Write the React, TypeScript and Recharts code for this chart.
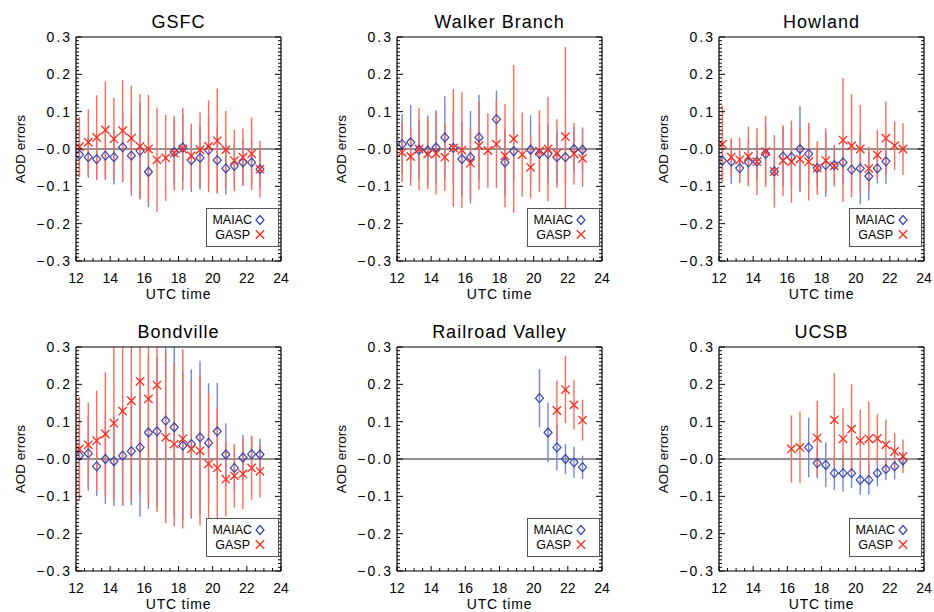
import React from 'react';
import { ScatterChart, Scatter, XAxis, YAxis, ErrorBar, ReferenceLine } from 'recharts';

// ---------- axis ticks ----------
const X_TICKS_MAJOR = [12, 14, 16, 18, 20, 22, 24];
const X_TICK_LABELS = ['12', '14', '16', '18', '20', '22', '24'];
const Y_TICKS_MAJOR = [-0.3, -0.2, -0.1, 0, 0.1, 0.2, 0.3];
const Y_TICK_LABELS = ['\u22120.3', '\u22120.2', '\u22120.1', '\u22120.0', '0.1', '0.2', '0.3'];
const X_TICKS_ALL = Array.from({ length: 25 }, (_, i) => 12 + i * 0.5);
const Y_TICKS_ALL = Array.from({ length: 61 }, (_, i) => (i - 30) / 100);
const Y_MIN = -0.3;
const Y_MAX = 0.3;

// ---------- data ----------
const TIMES_A = [12.2, 12.72, 13.21, 13.72, 14.22, 14.73, 15.24, 15.75, 16.24, 16.74, 17.25, 17.75, 18.25, 18.75, 19.26, 19.76, 20.27, 20.77, 21.27, 21.77, 22.28, 22.77];
const TIMES_B = [12.3, 12.8, 13.29, 13.8, 14.29, 14.8, 15.3, 15.8, 16.3, 16.8, 17.32, 17.82, 18.32, 18.83, 19.33, 19.82, 20.34, 20.84, 21.36, 21.86, 22.36, 22.86];

const GSFC_MAIAC = [-0.015, -0.022, -0.027, -0.018, -0.022, 0.005, -0.018, -0.005, -0.061, null, null, -0.008, 0.004, -0.03, -0.024, -0.003, -0.03, -0.052, -0.045, -0.036, -0.036, -0.054];
const GSFC_MAIAC_ERR = [0.06, 0.055, 0.056, 0.065, 0.073, 0.094, 0.107, 0.13, 0.095, null, null, 0.09, 0.09, 0.085, 0.085, 0.09, 0.09, 0.07, 0.06, 0.06, 0.06, 0.05];
const GSFC_GASP = [0.006, 0.018, 0.031, 0.051, 0.027, 0.049, 0.029, 0.007, 0.0, -0.029, -0.024, -0.011, 0.0, -0.018, -0.002, 0.007, 0.022, -0.002, -0.031, -0.022, -0.013, -0.054];
const GSFC_GASP_ERR = [0.08, 0.088, 0.113, 0.13, 0.11, 0.135, 0.14, 0.14, 0.145, 0.14, 0.115, 0.1, 0.11, 0.086, 0.1, 0.123, 0.14, 0.104, 0.082, 0.077, 0.097, 0.076];

const WALKER_MAIAC = [0.013, 0.018, -0.002, -0.004, 0.004, 0.031, 0.003, -0.027, -0.022, 0.031, null, 0.08, -0.036, -0.006, null, -0.002, -0.013, -0.013, -0.022, -0.022, 0.0, -0.002];
const WALKER_MAIAC_ERR = [0.08, 0.1, 0.08, 0.094, 0.1, 0.11, 0.1, 0.1, 0.124, 0.114, null, 0.076, 0.09, 0.08, null, 0.092, 0.08, 0.08, 0.07, 0.07, 0.06, 0.06];
const WALKER_GASP = [-0.009, -0.02, 0.0, -0.013, -0.012, -0.022, 0.003, -0.003, -0.038, 0.009, -0.004, 0.013, -0.018, 0.027, -0.015, -0.049, -0.006, 0.0, -0.012, 0.033, -0.013, -0.025];
const WALKER_GASP_ERR = [0.08, 0.078, 0.11, 0.095, 0.11, 0.09, 0.158, 0.155, 0.096, 0.118, 0.1, 0.118, 0.138, 0.198, 0.113, 0.083, 0.11, 0.14, 0.092, 0.24, 0.083, 0.077];

const HOWLAND_MAIAC = [-0.031, -0.034, -0.051, -0.036, -0.034, -0.013, -0.06, -0.02, -0.022, 0.0, -0.013, -0.051, -0.043, -0.043, -0.036, -0.055, -0.052, -0.073, -0.052, -0.033, null, null];
const HOWLAND_MAIAC_ERR = [0.05, 0.06, 0.04, 0.06, 0.05, 0.08, 0.04, 0.08, 0.08, 0.115, 0.08, 0.05, 0.085, 0.05, 0.06, 0.06, 0.095, 0.065, 0.04, 0.06, null, null];
const HOWLAND_GASP = [0.013, -0.022, -0.029, -0.02, -0.034, -0.007, -0.06, -0.031, -0.034, -0.027, -0.034, -0.051, -0.031, -0.045, 0.024, 0.009, 0.0, -0.052, -0.016, 0.029, 0.009, 0.0];
const HOWLAND_GASP_ERR = [0.103, 0.05, 0.06, 0.08, 0.09, 0.095, 0.097, 0.094, 0.11, 0.085, 0.104, 0.072, 0.086, 0.056, 0.166, 0.138, 0.118, 0.058, 0.067, 0.098, 0.065, 0.069];

const BOND_MAIAC = [0.009, 0.015, -0.02, 0.0, -0.006, 0.009, 0.021, 0.031, 0.071, 0.074, 0.103, 0.085, 0.036, 0.04, 0.058, 0.043, 0.074, 0.012, -0.024, 0.004, 0.013, 0.012];
const BOND_MAIAC_ERR = [0.1, 0.1, 0.079, 0.12, 0.12, 0.134, 0.145, 0.186, 0.205, 0.2, 0.25, 0.24, 0.2, 0.2, 0.205, 0.16, 0.13, 0.084, 0.06, 0.06, 0.049, 0.042];
const BOND_GASP = [0.027, 0.038, 0.049, 0.067, 0.096, 0.128, 0.156, 0.208, 0.161, 0.198, 0.058, 0.04, 0.054, 0.027, 0.022, -0.013, -0.024, -0.054, -0.045, -0.04, -0.024, -0.033];
const BOND_GASP_ERR = [0.14, 0.113, 0.134, 0.165, 0.207, 0.253, 0.268, 0.3, 0.28, 0.34, 0.23, 0.22, 0.24, 0.18, 0.2, 0.19, 0.16, 0.1, 0.085, 0.094, 0.085, 0.07];

const RAIL_MAIAC = [null, null, null, null, null, null, null, null, null, null, null, null, null, null, null, null, 0.163, 0.071, 0.031, 0.0, -0.009, -0.022];
const RAIL_MAIAC_ERR = [null, null, null, null, null, null, null, null, null, null, null, null, null, null, null, null, 0.078, 0.08, 0.061, 0.04, 0.042, 0.031];
const RAIL_GASP = [null, null, null, null, null, null, null, null, null, null, null, null, null, null, null, null, null, null, 0.13, 0.186, 0.145, 0.104];
const RAIL_GASP_ERR = [null, null, null, null, null, null, null, null, null, null, null, null, null, null, null, null, null, null, 0.08, 0.09, 0.066, 0.055];

const UCSB_MAIAC = [null, null, null, null, null, null, null, null, null, null, 0.031, -0.011, -0.016, -0.038, -0.038, -0.038, -0.056, -0.056, -0.038, -0.027, -0.02, -0.004];
const UCSB_MAIAC_ERR = [null, null, null, null, null, null, null, null, null, null, 0.08, 0.04, 0.06, 0.045, 0.05, 0.04, 0.04, 0.04, 0.035, 0.03, 0.035, 0.02];
const UCSB_GASP = [null, null, null, null, null, null, null, null, 0.027, 0.031, null, 0.056, null, 0.105, 0.054, 0.08, 0.049, 0.054, 0.055, 0.038, 0.02, 0.007];
const UCSB_GASP_ERR = [null, null, null, null, null, null, null, null, 0.09, 0.096, null, 0.1, null, 0.125, 0.082, 0.12, 0.083, 0.1, 0.065, 0.068, 0.05, 0.045];

// ---------- styling ----------
const BLUE = '#3246b4';
const BLUE_BAR = '#7584d6';
const RED = '#ff2a18';
const RED_BAR = '#ff6a58';
const FONT = '"Liberation Sans", Arial, Helvetica, sans-serif';
const TM = 10; // tick margin used to locate the axis line in custom ticks

type Pt = { x: number; y: number; e: [number, number] };

// error bars are limited to the plotting window (as the original plot clips them)
function pts(times: number[], vals: (number | null)[], errs: (number | null)[]): Pt[] {
  const out: Pt[] = [];
  times.forEach((t, i) => {
    const v = vals[i];
    if (v !== null && v !== undefined) {
      const err = (errs[i] as number) || 0;
      out.push({ x: t, y: v, e: [Math.max(0, Math.min(err, v - Y_MIN)), Math.max(0, Math.min(err, Y_MAX - v))] });
    }
  });
  return out;
}

function BottomTick(props: any) {
  const { x, y, payload } = props;
  const v = payload.value;
  const axisY = y - TM;
  const idx = X_TICKS_MAJOR.indexOf(v);
  const major = idx >= 0;
  return (
    <g>
      <line x1={x} y1={axisY} x2={x} y2={axisY - (major ? 5 : 3)} stroke="#000" strokeWidth={1} />
      {major && (
        <text x={x} y={axisY + 17} textAnchor="middle" dominantBaseline="central" fontSize={14} fontFamily={FONT} fill="#000">
          {X_TICK_LABELS[idx]}
        </text>
      )}
    </g>
  );
}

function TopTick(props: any) {
  const { x, y, payload } = props;
  const axisY = y + TM;
  const major = X_TICKS_MAJOR.indexOf(payload.value) >= 0;
  return <line x1={x} y1={axisY} x2={x} y2={axisY + (major ? 5 : 3)} stroke="#000" strokeWidth={1} />;
}

function LeftTick(props: any) {
  const { x, y, payload } = props;
  const axisX = x + TM;
  const idx = Y_TICKS_MAJOR.indexOf(payload.value);
  const major = idx >= 0;
  return (
    <g>
      <line x1={axisX} y1={y} x2={axisX + (major ? 6 : 3)} y2={y} stroke="#000" strokeWidth={1} />
      {major && (
        <text x={axisX - 4} y={y} textAnchor="end" dominantBaseline="central" fontSize={14} letterSpacing={2} fontFamily={FONT} fill="#000">
          {Y_TICK_LABELS[idx]}
        </text>
      )}
    </g>
  );
}

function RightTick(props: any) {
  const { x, y, payload } = props;
  const axisX = x - TM;
  const major = Y_TICKS_MAJOR.indexOf(payload.value) >= 0;
  return <line x1={axisX} y1={y} x2={axisX - (major ? 6 : 3)} y2={y} stroke="#000" strokeWidth={1} />;
}

function Diamond(props: any) {
  const { cx, cy } = props;
  if (cx == null || cy == null) return null;
  return <path d={`M${cx},${cy - 4.5}L${cx + 4},${cy}L${cx},${cy + 4.5}L${cx - 4},${cy}Z`} fill="none" stroke={BLUE} strokeWidth={1.2} />;
}

function Cross(props: any) {
  const { cx, cy } = props;
  if (cx == null || cy == null) return null;
  const s = 4.2;
  return <path d={`M${cx - s},${cy - s}L${cx + s},${cy + s}M${cx - s},${cy + s}L${cx + s},${cy - s}`} fill="none" stroke={RED} strokeWidth={1.3} />;
}

type PanelProps = {
  title: string;
  plotLeft: number;
  plotTop: number;
  maiac: Pt[];
  gasp: Pt[];
};

const PW = 205;
const PH = 224;

function Panel({ title, plotLeft, plotTop, maiac, gasp }: PanelProps) {
  const chartLeft = plotLeft - 76;
  const chartTop = plotTop - 37;
  return (
    <>
      <div style={{ position: 'absolute', left: chartLeft, top: chartTop }}>
        <ScatterChart width={290} height={300} margin={{ top: 32, right: 4, bottom: 9, left: 20 }}>
          <XAxis
            dataKey="x"
            type="number"
            domain={[12, 24]}
            allowDataOverflow
            ticks={X_TICKS_ALL}
            interval={0}
            tick={BottomTick}
            tickLine={false}
            tickSize={0}
            tickMargin={TM}
            height={30}
            axisLine={{ stroke: '#000', strokeWidth: 1.2 }}
          />
          <XAxis
            xAxisId="t"
            orientation="top"
            type="number"
            domain={[12, 24]}
            allowDataOverflow
            ticks={X_TICKS_ALL}
            interval={0}
            tick={TopTick}
            tickLine={false}
            tickSize={0}
            tickMargin={TM}
            height={5}
            axisLine={{ stroke: '#000', strokeWidth: 1.2 }}
          />
          <YAxis
            dataKey="y"
            type="number"
            domain={[Y_MIN, Y_MAX]}
            allowDataOverflow
            ticks={Y_TICKS_ALL}
            interval={0}
            tick={LeftTick}
            tickLine={false}
            tickSize={0}
            tickMargin={TM}
            width={56}
            axisLine={{ stroke: '#000', strokeWidth: 1.2 }}
          />
          <YAxis
            yAxisId="r"
            orientation="right"
            type="number"
            domain={[Y_MIN, Y_MAX]}
            allowDataOverflow
            ticks={Y_TICKS_ALL}
            interval={0}
            tick={RightTick}
            tickLine={false}
            tickSize={0}
            tickMargin={TM}
            width={5}
            axisLine={{ stroke: '#000', strokeWidth: 1.2 }}
          />
          <ReferenceLine y={0} stroke="#6e6e6e" strokeWidth={1.5} />
          <Scatter data={maiac} dataKey="y" shape={Diamond} isAnimationActive={false}>
            <ErrorBar dataKey="e" direction="y" width={0} stroke={BLUE_BAR} strokeWidth={1.4} isAnimationActive={false} />
          </Scatter>
          <Scatter data={gasp} dataKey="y" shape={Cross} isAnimationActive={false}>
            <ErrorBar dataKey="e" direction="y" width={0} stroke={RED_BAR} strokeWidth={1.4} isAnimationActive={false} />
          </Scatter>
        </ScatterChart>
      </div>
      {/* title */}
      <div
        style={{
          position: 'absolute',
          left: plotLeft,
          top: plotTop - 24.3,
          width: PW,
          textAlign: 'center',
          fontSize: 18,
          lineHeight: '18px',
          letterSpacing: 1,
          fontFamily: FONT,
          color: '#000',
          whiteSpace: 'nowrap',
        }}
      >
        {title}
      </div>
      {/* y label */}
      <div
        style={{
          position: 'absolute',
          left: plotLeft - 55 - 50,
          top: plotTop + PH / 2 - 8,
          width: 100,
          height: 16,
          lineHeight: '16px',
          textAlign: 'center',
          fontSize: 13.5,
          fontFamily: FONT,
          color: '#000',
          transform: 'rotate(-90deg)',
          whiteSpace: 'nowrap',
        }}
      >
        AOD errors
      </div>
      {/* x label */}
      <div
        style={{
          position: 'absolute',
          left: plotLeft,
          top: plotTop + PH + 27,
          width: PW,
          height: 12,
          textAlign: 'center',
          fontSize: 14,
          lineHeight: '12px',
          letterSpacing: 0.8,
          fontFamily: FONT,
          color: '#000',
          whiteSpace: 'nowrap',
        }}
      >
        UTC time
      </div>
      {/* legend */}
      <div style={{ position: 'absolute', left: plotLeft + 130, top: plotTop + 171, width: 73, height: 39 }}>
        <svg width={73} height={39} style={{ display: 'block' }}>
          <rect x={0.5} y={0.5} width={72} height={38} fill="#fff" stroke="#555" strokeWidth={1} />
          <text x={46} y={12} textAnchor="end" dominantBaseline="central" fontSize={12.5} fontFamily={FONT} fill="#000">
            MAIAC
          </text>
          <text x={44} y={26.5} textAnchor="end" dominantBaseline="central" fontSize={12.5} fontFamily={FONT} fill="#000">
            GASP
          </text>
          <Diamond cx={54} cy={12} />
          <Cross cx={54} cy={26.5} />
        </svg>
      </div>
    </>
  );
}

const COL_LEFT = [76, 397, 719];
const ROW_TOP = [37, 347];

export default function App() {
  return (
    <div
      style={{
        position: 'absolute',
        left: 0,
        top: 0,
        width: 934,
        height: 612,
        background: '#fff',
        overflow: 'hidden',
        fontFamily: FONT,
      }}
    >
      <Panel title="GSFC" plotLeft={COL_LEFT[0]} plotTop={ROW_TOP[0]} maiac={pts(TIMES_A, GSFC_MAIAC, GSFC_MAIAC_ERR)} gasp={pts(TIMES_A, GSFC_GASP, GSFC_GASP_ERR)} />
      <Panel title="Walker Branch" plotLeft={COL_LEFT[1]} plotTop={ROW_TOP[0]} maiac={pts(TIMES_B, WALKER_MAIAC, WALKER_MAIAC_ERR)} gasp={pts(TIMES_B, WALKER_GASP, WALKER_GASP_ERR)} />
      <Panel title="Howland" plotLeft={COL_LEFT[2]} plotTop={ROW_TOP[0]} maiac={pts(TIMES_A, HOWLAND_MAIAC, HOWLAND_MAIAC_ERR)} gasp={pts(TIMES_A, HOWLAND_GASP, HOWLAND_GASP_ERR)} />
      <Panel title="Bondville" plotLeft={COL_LEFT[0]} plotTop={ROW_TOP[1]} maiac={pts(TIMES_A, BOND_MAIAC, BOND_MAIAC_ERR)} gasp={pts(TIMES_A, BOND_GASP, BOND_GASP_ERR)} />
      <Panel title="Railroad Valley" plotLeft={COL_LEFT[1]} plotTop={ROW_TOP[1]} maiac={pts(TIMES_B, RAIL_MAIAC, RAIL_MAIAC_ERR)} gasp={pts(TIMES_B, RAIL_GASP, RAIL_GASP_ERR)} />
      <Panel title="UCSB" plotLeft={COL_LEFT[2]} plotTop={ROW_TOP[1]} maiac={pts(TIMES_A, UCSB_MAIAC, UCSB_MAIAC_ERR)} gasp={pts(TIMES_A, UCSB_GASP, UCSB_GASP_ERR)} />
    </div>
  );
}
